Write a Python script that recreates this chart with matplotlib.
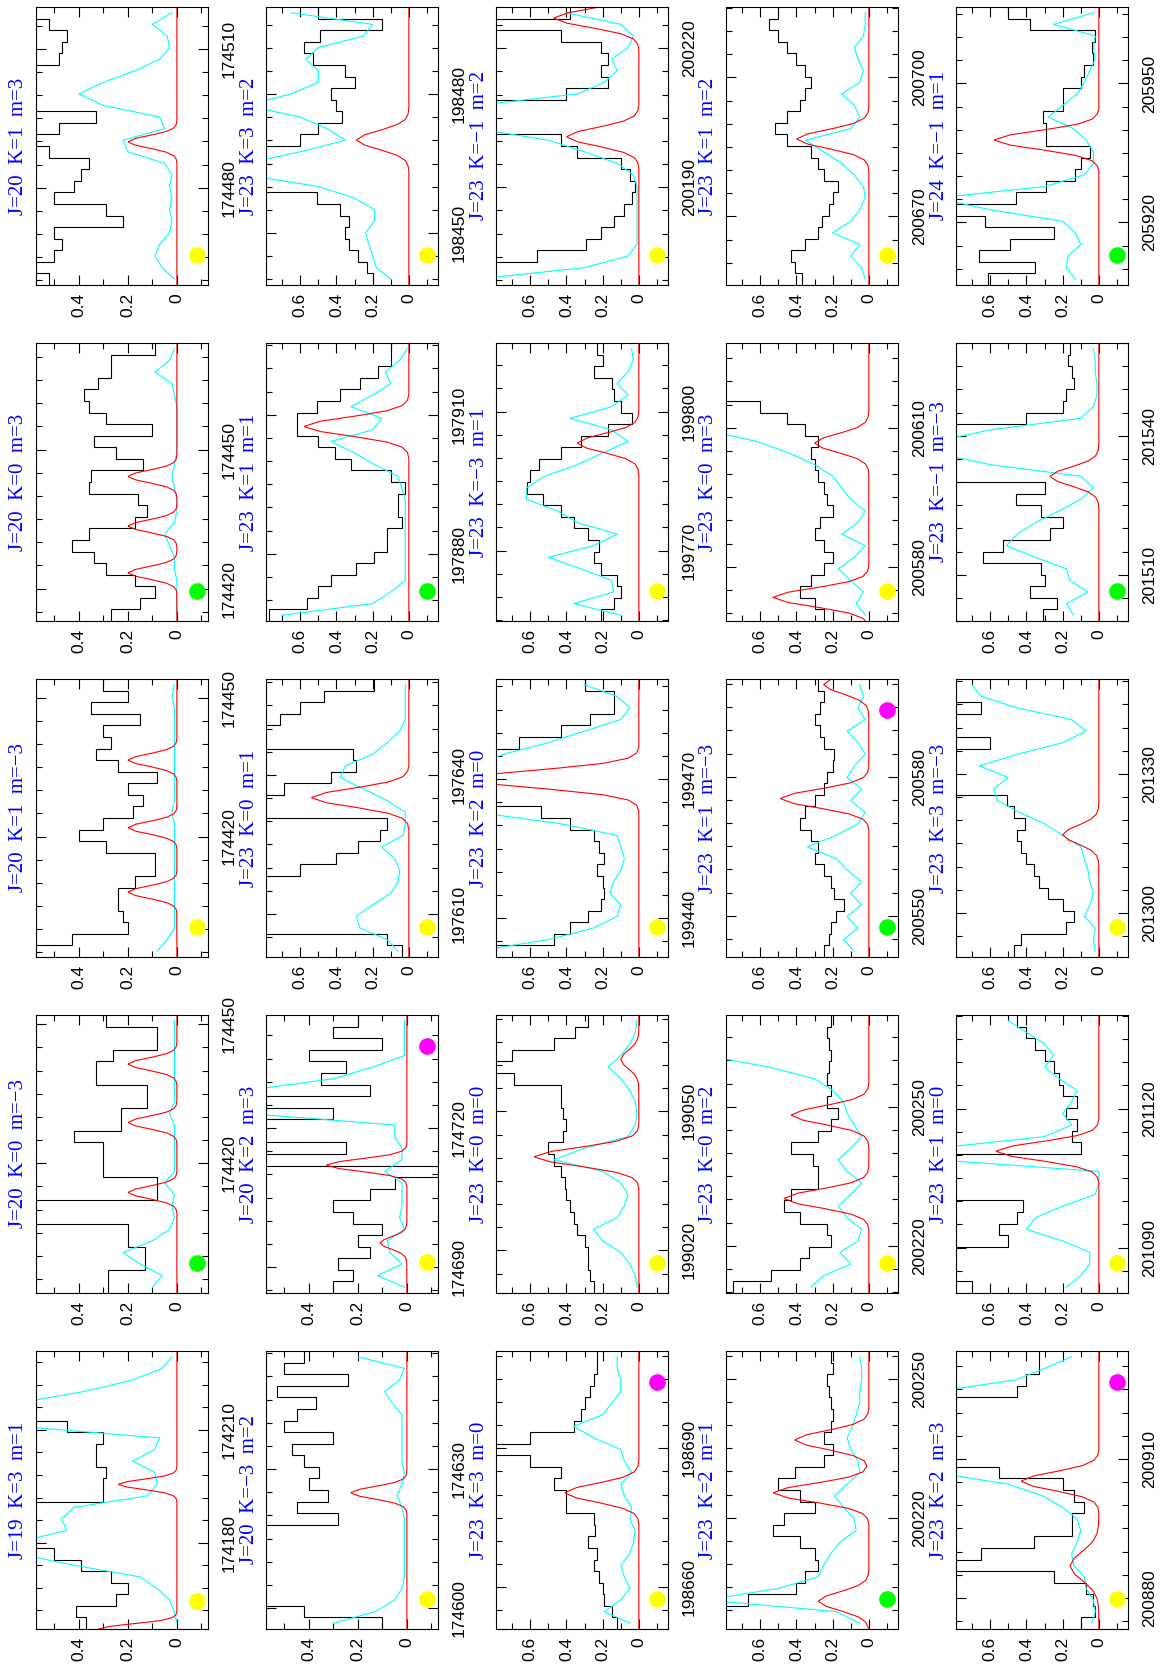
import numpy as np
import matplotlib
matplotlib.use("Agg")
import matplotlib.pyplot as plt
from matplotlib.ticker import MultipleLocator, FuncFormatter

# Spectra panels, page printed rotated by 90 degrees.
# Panel name "rj": r = row of the landscape page (= column on this page, left to right),
# j = column of the landscape page (= panel on this page, bottom to top).

titles = ["J=19  K=3  m=1", "J=20  K=0  m=\u22123", "J=20  K=1  m=\u22123", "J=20  K=0  m=3", "J=20  K=1  m=3",
          "J=20  K=\u22123  m=2", "J=20  K=2  m=3", "J=23  K=0  m=1", "J=23  K=1  m=1", "J=23  K=3  m=2",
          "J=23  K=3  m=0", "J=23  K=0  m=0", "J=23  K=2  m=0", "J=23  K=\u22123  m=1", "J=23  K=\u22121  m=2",
          "J=23  K=2  m=1", "J=23  K=0  m=2", "J=23  K=1  m=\u22123", "J=23  K=0  m=3", "J=23  K=1  m=2",
          "J=23  K=2  m=3", "J=23  K=1  m=0", "J=23  K=3  m=\u22123", "J=23  K=\u22121  m=\u22123", "J=24  K=\u22121  m=1"]

# frequency window of each panel (MHz)
f_start = [174157, 174392, 174394, 174413, 174459,
           174595.5, 174684.4, 197600.7, 197865.5, 198438.8,
           198651, 199010.8, 199431.6, 199754.8, 200168.9,
           200196, 200209.8, 200541.1, 200568.3, 200655.2,
           200873.3, 201080.2, 201290.5, 201500, 205906.5]
f_span = [74, 60, 60, 60, 60,
          60, 60, 60, 60, 60,
          60, 60, 60, 60, 60,
          60, 60, 60, 60, 60,
          60, 60, 60, 60, 60]
f_minor = [6] + [5] * 24
small_scale = [True] * 7 + [False] * 18

# observed spectrum (black histogram), channels from low to high frequency
obs_00 = [0.37, 0.41, 0.25, 0.2, 0.27, 0.39, 0.5, 0.65, 0.65, 0.65, 0.65, 0.3, 0.3, 0.29, 0.33, 0.33, 0.3, 0.45, 0.65, 0.65, 0.65, 0.65, 0.65, 0.65]
obs_01 = [0.28, 0.28, 0.13, 0.13, 0.2, 0.2, 0.65, 0.65, 0.08, 0.08, 0.3, 0.3, 0.3, 0.42, 0.23, 0.23, 0.12, 0.12, 0.33, 0.33, 0.26, 0.08, 0.08, 0.29]
obs_02 = [0.65, 0.43, 0.2, 0.22, 0.24, 0.24, 0.17, 0.09, 0.09, 0.29, 0.4, 0.3, 0.18, 0.14, 0.2, 0.08, 0.24, 0.33, 0.27, 0.3, 0.15, 0.35, 0.2, 0.3]
obs_03 = [0.27, 0.15, 0.09, 0.17, 0.29, 0.34, 0.43, 0.36, 0.17, 0.12, 0.16, 0.36, 0.35, 0.14, 0.25, 0.34, 0.1, 0.29, 0.36, 0.38, 0.32, 0.27, 0.27, 0.09]
obs_04 = [0.52, 0.65, 0.5, 0.47, 0.5, 0.22, 0.29, 0.5, 0.42, 0.39, 0.36, 0.52, 0.65, 0.48, 0.33, 0.65, 0.65, 0.65, 0.65, 0.48, 0.47, 0.45, 0.52, 0.65]
obs_10 = [0.1, 0.42, 0.65, 0.65, 0.65, 0.65, 0.65, 0.65, 0.65, 0.28, 0.45, 0.32, 0.4, 0.36, 0.42, 0.47, 0.3, 0.5, 0.45, 0.37, 0.53, 0.24, 0.5, 0.42]
obs_11 = [0.3, 0.22, 0.28, 0.15, 0.2, 0.1, 0.22, 0.3, 0.15, 0.05, -0.13, 0.65, 0.25, 0.65, 0.65, 0.3, 0.65, 0.15, 0.35, 0.25, 0.4, 0.1, 0.3, 0.2]
obs_12 = [0.04, 0.12, 0.9, 0.9, 0.9, 0.9, 0.9, 0.6, 0.4, 0.28, 0.16, 0.12, 0.9, 0.9, 0.69, 0.43, 0.29, 0.31, 0.9, 0.9, 0.71, 0.6, 0.47, 0.19]
obs_13 = [0.77, 0.56, 0.5, 0.43, 0.29, 0.19, 0.12, 0.12, 0.04, 0.06, 0.06, 0.02, 0.1, 0.32, 0.41, 0.5, 0.62, 0.62, 0.51, 0.38, 0.27, 0.17, 0.1, 0.1]
obs_14 = [0.2, 0.23, 0.28, 0.33, 0.35, 0.33, 0.38, 0.51, 0.9, 0.9, 0.9, 0.9, 0.6, 0.5, 0.37, 0.4, 0.43, 0.3, 0.35, 0.53, 0.58, 0.49, 0.15, 0.5]
obs_20 = [0.12, 0.15, 0.19, 0.2, 0.22, 0.25, 0.23, 0.28, 0.24, 0.25, 0.4, 0.4, 0.47, 0.43, 0.6, 0.9, 0.6, 0.36, 0.32, 0.3, 0.27, 0.25, 0.23, 0.23]
obs_21 = [0.25, 0.27, 0.28, 0.28, 0.3, 0.34, 0.36, 0.38, 0.4, 0.41, 0.43, 0.47, 0.5, 0.42, 0.4, 0.42, 0.43, 0.43, 0.69, 0.9, 0.7, 0.47, 0.35, 0.28]
obs_22 = [0.9, 0.47, 0.38, 0.28, 0.21, 0.19, 0.2, 0.23, 0.19, 0.22, 0.25, 0.38, 0.54, 0.9, 0.9, 0.9, 0.9, 0.9, 0.66, 0.43, 0.27, 0.14, 0.14, 0.3]
obs_23 = [0.21, 0.14, 0.1, 0.12, 0.21, 0.25, 0.22, 0.28, 0.36, 0.43, 0.53, 0.62, 0.6, 0.55, 0.43, 0.32, 0.17, 0.04, 0.1, 0.14, 0.15, 0.25, 0.2, 0.23]
obs_24 = [0.9, 0.9, 0.56, 0.29, 0.21, 0.14, 0.08, 0.04, 0.02, 0.05, 0.1, 0.34, 0.43, 0.9, 0.9, 0.9, 0.4, 0.17, 0.21, 0.17, 0.21, 0.43, 0.9, 0.38]
obs_30 = [0.9, 0.9, 0.67, 0.4, 0.35, 0.28, 0.3, 0.38, 0.53, 0.47, 0.3, 0.38, 0.5, 0.41, 0.25, 0.2, 0.25, 0.21, 0.2, 0.21, 0.22, 0.23, 0.2, 0.21]
obs_31 = [0.75, 0.54, 0.38, 0.33, 0.21, 0.23, 0.38, 0.47, 0.43, 0.28, 0.28, 0.31, 0.43, 0.28, 0.21, 0.17, 0.23, 0.21, 0.23, 0.22, 0.21, 0.22, 0.23, 0.21]
obs_32 = [0.25, 0.22, 0.21, 0.18, 0.14, 0.19, 0.21, 0.25, 0.3, 0.28, 0.32, 0.38, 0.35, 0.3, 0.25, 0.23, 0.2, 0.19, 0.25, 0.27, 0.3, 0.27, 0.25, 0.28]
obs_33 = [0.25, 0.3, 0.38, 0.32, 0.25, 0.2, 0.25, 0.3, 0.27, 0.2, 0.23, 0.25, 0.28, 0.3, 0.32, 0.28, 0.35, 0.45, 0.6, 0.9, 0.9, 0.9, 0.9, 0.9]
obs_34 = [0.37, 0.41, 0.43, 0.35, 0.28, 0.26, 0.22, 0.2, 0.17, 0.25, 0.28, 0.32, 0.45, 0.52, 0.45, 0.38, 0.35, 0.32, 0.35, 0.4, 0.45, 0.5, 0.55, 0.5]
obs_40 = [0.1, 0.02, 0.03, 0.07, 0.25, 0.9, 0.65, 0.36, 0.15, 0.15, 0.08, 0.14, 0.2, 0.55, 0.9, 0.9, 0.9, 0.9, 0.9, 0.9, 0.45, 0.4, 0.33, 0.33]
obs_41 = [0.7, 0.9, 0.9, 0.9, 0.5, 0.55, 0.45, 0.42, 0.9, 0.9, 0.9, 0.9, 0.1, 0.15, 0.12, 0.18, 0.12, 0.2, 0.22, 0.25, 0.3, 0.35, 0.4, 0.45]
obs_42 = [0.47, 0.43, 0.18, 0.14, 0.2, 0.28, 0.33, 0.36, 0.4, 0.43, 0.45, 0.41, 0.47, 0.51, 0.9, 0.9, 0.9, 0.9, 0.6, 0.9, 0.9, 0.65, 0.9, 0.9]
obs_43 = [0.31, 0.23, 0.38, 0.3, 0.32, 0.64, 0.53, 0.27, 0.2, 0.32, 0.46, 0.3, 0.9, 0.9, 0.9, 0.9, 0.9, 0.4, 0.2, 0.18, 0.14, 0.15, 0.17, 0.16]
obs_44 = [0.61, 0.35, 0.66, 0.49, 0.25, 0.63, 0.9, 0.46, 0.29, 0.13, 0.1, 0.05, 0.29, 0.29, 0.31, 0.2, 0.2, 0.1, 0.08, 0.03, 0.04, 0.02, 0.38, 0.5]

# synthetic spectrum of the other species (cyan)
syn_00 = [0.0, 0.01, 0.03, 0.08, 0.15, 0.42, 0.65, 0.65, 0.45, 0.47, 0.42, 0.12, 0.08, 0.09, 0.18, 0.09, 0.07, 0.65, 0.65, 0.65, 0.38, 0.18, 0.06, 0.02]
syn_01 = [0.1, 0.06, 0.15, 0.22, 0.1, 0.03, 0.01, 0.02, 0.01, 0.05, 0.01, 0.01, 0.01, 0.01, 0.01, 0.03, 0.01, 0.01, 0.01, 0.01, 0.01, 0.01, 0.01, 0.01]
syn_02 = [0.08, 0.04, 0.01, 0.01, 0.01, 0.01, 0.01, 0.01, 0.01, 0.01, 0.01, 0.01, 0.02, 0.01, 0.01, 0.01, 0.01, 0.01, 0.01, 0.01, 0.01, 0.01, 0.02, 0.01]
syn_03 = [0.0, 0.0, 0.0, 0.0, 0.01, 0.01, 0.03, 0.05, 0.01, 0.0, 0.0, 0.01, 0.02, 0.01, 0.0, 0.0, 0.0, 0.0, 0.0, 0.01, 0.02, 0.09, 0.03, 0.01]
syn_04 = [0.01, 0.06, 0.09, 0.07, 0.03, 0.02, 0.03, 0.02, 0.03, 0.02, 0.05, 0.2, 0.22, 0.05, 0.07, 0.3, 0.4, 0.3, 0.17, 0.07, 0.03, 0.04, 0.1, 0.02]
syn_10 = [0.3, 0.13, 0.05, 0.02, 0.01, 0.01, 0.01, 0.01, 0.01, 0.01, 0.02, 0.04, 0.02, 0.01, 0.02, 0.02, 0.02, 0.02, 0.02, 0.06, 0.09, 0.03, 0.01, 0.2]
syn_11 = [0.01, 0.12, 0.02, 0.07, 0.08, 0.01, 0.03, 0.02, 0.02, 0.02, 0.09, 0.02, 0.02, 0.05, 0.05, 0.65, 0.65, 0.65, 0.3, 0.14, 0.01, 0.01, 0.01, 0.01]
syn_12 = [0.06, 0.12, 0.27, 0.29, 0.2, 0.1, 0.06, 0.05, 0.08, 0.15, 0.03, 0.02, 0.02, 0.12, 0.25, 0.38, 0.35, 0.2, 0.12, 0.05, 0.02, 0.02, 0.02, 0.02]
syn_13 = [0.7, 0.2, 0.1, 0.02, 0.02, 0.02, 0.02, 0.02, 0.02, 0.02, 0.02, 0.04, 0.06, 0.19, 0.3, 0.43, 0.2, 0.15, 0.32, 0.2, 0.1, 0.13, 0.05, 0.01]
syn_14 = [0.1, 0.18, 0.2, 0.22, 0.24, 0.19, 0.19, 0.3, 0.5, 0.9, 0.9, 0.6, 0.35, 0.45, 0.6, 0.9, 0.65, 0.5, 0.5, 0.57, 0.5, 0.25, 0.2, 0.65]
syn_20 = [0.05, 0.19, 0.1, 0.05, 0.08, 0.1, 0.05, 0.03, 0.02, 0.05, 0.04, 0.08, 0.1, 0.04, 0.08, 0.1, 0.25, 0.36, 0.2, 0.15, 0.1, 0.1, 0.12, 0.12]
syn_21 = [0.01, 0.02, 0.05, 0.1, 0.2, 0.25, 0.12, 0.08, 0.06, 0.1, 0.2, 0.47, 0.3, 0.06, 0.02, 0.01, 0.02, 0.05, 0.1, 0.17, 0.1, 0.05, 0.02, 0.01]
syn_22 = [0.9, 0.5, 0.25, 0.12, 0.1, 0.16, 0.14, 0.1, 0.08, 0.1, 0.12, 0.43, 0.9, 0.9, 0.9, 0.9, 0.9, 0.75, 0.5, 0.3, 0.1, 0.05, 0.12, 0.3]
syn_23 = [0.1, 0.36, 0.14, 0.15, 0.32, 0.5, 0.25, 0.12, 0.34, 0.45, 0.62, 0.62, 0.52, 0.34, 0.2, 0.06, 0.15, 0.38, 0.15, 0.06, 0.12, 0.06, 0.03, 0.04]
syn_24 = [0.9, 0.3, 0.06, 0.01, 0.01, 0.01, 0.01, 0.01, 0.01, 0.03, 0.12, 0.3, 0.5, 0.9, 0.9, 0.9, 0.34, 0.19, 0.12, 0.15, 0.06, 0.03, 0.1, 0.4]
syn_30 = [0.05, 0.18, 0.9, 0.5, 0.28, 0.25, 0.21, 0.16, 0.07, 0.08, 0.14, 0.19, 0.12, 0.05, 0.06, 0.1, 0.12, 0.09, 0.07, 0.05, 0.05, 0.04, 0.04, 0.05]
syn_31 = [0.32, 0.25, 0.1, 0.16, 0.06, 0.04, 0.12, 0.17, 0.1, 0.04, 0.12, 0.17, 0.1, 0.04, 0.08, 0.12, 0.14, 0.2, 0.3, 0.55, 0.9, 0.9, 0.9, 0.9]
syn_32 = [0.08, 0.14, 0.06, 0.12, 0.04, 0.1, 0.04, 0.12, 0.18, 0.34, 0.18, 0.06, 0.02, 0.1, 0.04, 0.12, 0.08, 0.02, 0.06, 0.12, 0.02, 0.06, 0.03, 0.05]
syn_33 = [0.02, 0.07, 0.03, 0.1, 0.17, 0.08, 0.02, 0.15, 0.06, 0.02, 0.1, 0.15, 0.2, 0.3, 0.44, 0.62, 0.9, 0.9, 0.9, 0.9, 0.9, 0.9, 0.9, 0.9]
syn_34 = [0.02, 0.04, 0.1, 0.05, 0.2, 0.1, 0.05, 0.02, 0.03, 0.08, 0.15, 0.25, 0.35, 0.1, 0.05, 0.08, 0.15, 0.05, 0.03, 0.06, 0.08, 0.03, 0.02, 0.02]
syn_40 = [0.04, 0.02, 0.03, 0.07, 0.08, 0.14, 0.15, 0.12, 0.1, 0.12, 0.2, 0.31, 0.5, 0.9, 0.9, 0.9, 0.9, 0.9, 0.9, 0.9, 0.9, 0.46, 0.3, 0.15]
syn_41 = [0.18, 0.1, 0.05, 0.05, 0.2, 0.4, 0.35, 0.2, 0.02, 0.0, 0.0, 0.9, 0.9, 0.3, 0.15, 0.2, 0.15, 0.12, 0.22, 0.3, 0.25, 0.3, 0.4, 0.5]
syn_42 = [0.02, 0.03, 0.02, 0.08, 0.05, 0.03, 0.05, 0.06, 0.08, 0.1, 0.2, 0.3, 0.44, 0.56, 0.58, 0.5, 0.66, 0.45, 0.2, 0.07, 0.15, 0.45, 0.65, 0.7]
syn_43 = [0.14, 0.18, 0.06, 0.16, 0.18, 0.35, 0.51, 0.45, 0.35, 0.22, 0.1, 0.03, 0.1, 0.6, 0.9, 0.9, 0.6, 0.1, 0.03, 0.01, 0.01, 0.02, 0.02, 0.03]
syn_44 = [0.13, 0.18, 0.17, 0.1, 0.13, 0.2, 0.6, 0.9, 0.3, 0.08, 0.03, 0.03, 0.07, 0.14, 0.28, 0.2, 0.12, 0.08, 0.05, 0.02, 0.03, 0.02, 0.25, 0.03]

# red model lines: (centre MHz, peak, width MHz)
red_00 = [(174157, 0.32, 3.0), (174195.5, 0.24, 3.0)]
red_01 = [(174413.7, 0.2, 3.0), (174428.8, 0.2, 3.0), (174441.4, 0.2, 3.0)]
red_02 = [(174408, 0.2, 3.0), (174421.9, 0.2, 3.0), (174436.5, 0.2, 3.0)]
red_03 = [(174423.4, 0.2, 3.0), (174433.5, 0.2, 3.0), (174444.2, 0.2, 3.0)]
red_04 = [(174489.9, 0.2, 3.0)]
red_10 = [(174624.9, 0.23, 3.0)]
red_11 = [(174695.2, 0.11, 3.0), (174712, 0.33, 3.0)]
red_12 = [(197635.1, 0.54, 4.5)]
red_13 = [(197907.5, 0.58, 4.5)]
red_14 = [(198470.1, 0.29, 4.5)]
red_20 = [(198680.4, 0.41, 4.5)]
red_21 = [(199040.2, 0.58, 4.5), (199061.2, 0.1, 4.5)]
red_22 = [(199470, 0.95, 4.5)]
red_23 = [(199793.2, 0.34, 4.5)]
red_24 = [(200200.9, 0.4, 4.5), (200226.5, 0.47, 4.5)]
red_30 = [(200202, 0.28, 4.5), (200225.4, 0.53, 4.5), (200236.8, 0.41, 4.5)]
red_31 = [(200230.2, 0.47, 4.5), (200248.2, 0.43, 4.5)]
red_32 = [(200575.3, 0.49, 4.5), (200599.9, 0.25, 4.5)]
red_33 = [(200573.4, 0.53, 4.5), (200606.7, 0.3, 4.5)]
red_34 = [(200686.7, 0.4, 4.5)]
red_40 = [(200886.9, 0.16, 7.0), (200905.2, 0.43, 4.5)]
red_41 = [(201110.8, 0.57, 4.5)]
red_42 = [(201316.9, 0.2, 4.5)]
red_43 = [(201531.2, 0.27, 4.5)]
red_44 = [(205937.8, 0.58, 4.5)]

# line profile (in units of the width)
prof_x = [-1.5, -1.25, -1.0, -0.75, -0.5, -0.25, 0.0, 0.25, 0.5, 0.75, 1.0, 1.25, 1.5]
prof_y = [0.002, 0.013, 0.0625, 0.21, 0.5, 0.84, 1.0, 0.84, 0.5, 0.21, 0.0625, 0.013, 0.002]

# coloured markers (frequency, colour)
Y, G, M = "#ffff00", "#00ff00", "#ff00ff"
dots = [[(174164.5, Y)], [(174398.5, G)], [(174400.5, Y)], [(174419.5, G)], [(174465.5, Y)],
        [(174602, Y)], [(174691, Y), (174737.8, M)], [(197607.2, Y)], [(197872, G)], [(198445.3, Y)],
        [(198657.5, Y), (198704.4, M)], [(199017.3, Y)], [(199438.1, Y)], [(199761.3, Y)], [(200175.4, Y)],
        [(200202.5, G)], [(200216.3, Y)], [(200547.6, G), (200594.5, M)], [(200574.8, Y)], [(200661.7, Y)],
        [(200879.8, Y), (200926.7, M)], [(201086.7, Y)], [(201297, Y)], [(201506.5, G)], [(205913, G)]]

obs = [obs_00, obs_01, obs_02, obs_03, obs_04, obs_10, obs_11, obs_12, obs_13, obs_14,
       obs_20, obs_21, obs_22, obs_23, obs_24, obs_30, obs_31, obs_32, obs_33, obs_34,
       obs_40, obs_41, obs_42, obs_43, obs_44]
syn = [syn_00, syn_01, syn_02, syn_03, syn_04, syn_10, syn_11, syn_12, syn_13, syn_14,
       syn_20, syn_21, syn_22, syn_23, syn_24, syn_30, syn_31, syn_32, syn_33, syn_34,
       syn_40, syn_41, syn_42, syn_43, syn_44]
red = [red_00, red_01, red_02, red_03, red_04, red_10, red_11, red_12, red_13, red_14,
       red_20, red_21, red_22, red_23, red_24, red_30, red_31, red_32, red_33, red_34,
       red_40, red_41, red_42, red_43, red_44]

plt.rcParams['font.family'] = ['Liberation Sans', 'DejaVu Sans']

W, H = 1164, 1679
fig = plt.figure(figsize=(W / 100, H / 100), dpi=100)

def ilab(v, pos):
    if abs(v) < 1e-9:
        return "0"
    return "%.1f" % v

for r in range(5):
    for j in range(5):
        k = 5 * r + j
        left = 36 + 230 * r
        top = 7 + 336 * (4 - j)
        ax = fig.add_axes([left / W, (H - top - 278) / H, 172 / W, 278 / H])
        f0 = f_start[k]
        f1 = f0 + f_span[k]
        small = small_scale[k]
        ax.set_xlim((0.575, -0.127) if small else (0.789, -0.161))
        ax.set_ylim(f0, f1)

        b = np.asarray(obs[k], dtype=float)
        edges = np.linspace(f0, f1, len(b) + 1)
        ax.stairs(b, edges, orientation='horizontal', baseline=None, color='black', lw=0.8)

        s = np.asarray(syn[k], dtype=float)
        fs = np.linspace(f0, f1, len(s) + 1)
        ax.plot(s, 0.5 * (fs[:-1] + fs[1:]), color='#00ffff', lw=0.8)

        fine = np.linspace(f0, f1, 600)
        model = np.zeros_like(fine)
        for c, h, w in red[k]:
            model += h * np.interp((fine - c) / w, prof_x, prof_y, left=0, right=0)
        ax.plot(model, fine, color='red', lw=0.8)

        for fd, col in dots[k]:
            ax.plot(-0.083 if small else -0.1, fd, 'o', color=col, ms=12, mec='none')

        ax.xaxis.set_major_locator(MultipleLocator(0.2))
        ax.xaxis.set_minor_locator(MultipleLocator(0.1))
        ax.yaxis.set_major_locator(MultipleLocator(30))
        ax.yaxis.set_minor_locator(MultipleLocator(f_minor[k]))
        ax.xaxis.set_major_formatter(FuncFormatter(ilab))
        ax.yaxis.set_major_formatter(FuncFormatter(lambda v, p: "%d" % round(v)))
        ax.tick_params(which='both', direction='in', top=True, bottom=True, left=True, right=True,
                       labelleft=False, labelright=True, labelbottom=True, width=0.8, labelsize=12.5)
        ax.tick_params(which='major', length=7)
        ax.tick_params(which='minor', length=4)
        ax.tick_params(axis='x', labelrotation=90, pad=6)
        ax.tick_params(axis='y', labelrotation=90, pad=10)
        for t in ax.yaxis.get_major_ticks():
            t.label2.set_va('center')
        for sp in ax.spines.values():
            sp.set_linewidth(0.8)

        fig.text((left - 17) / W, 1 - (top + 139) / H, titles[k], rotation=90,
                 ha='center', va='center', color='blue', fontsize=15, family='Liberation Serif')

fig.savefig('out.png', dpi=100)
